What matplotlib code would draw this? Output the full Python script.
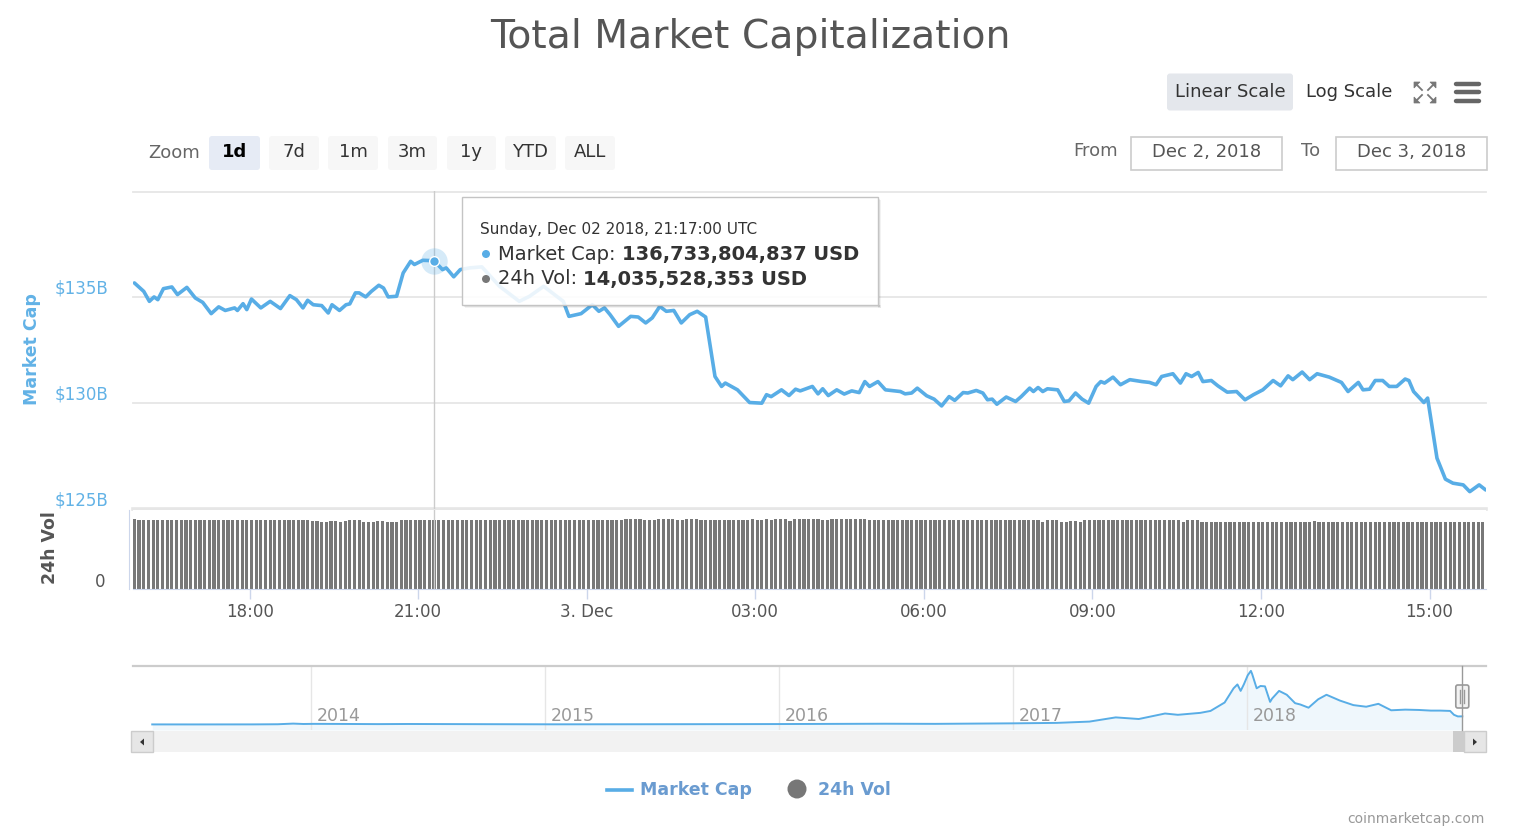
import matplotlib
matplotlib.use("Agg")
import matplotlib.pyplot as plt
import matplotlib.dates as mdates
import matplotlib.patches as mpatches
import matplotlib.transforms as mtransforms
import numpy as np
import pandas as pd

plt.rcParams['font.family'] = ['DejaVu Sans']

W, H, DPI = 1518, 834, 100

# ---------------- data ----------------
mc_times = [
 "12-02 15:57","12-02 16:07","12-02 16:13","12-02 16:18","12-02 16:22","12-02 16:28","12-02 16:37","12-02 16:43",
 "12-02 16:53","12-02 17:02","12-02 17:10","12-02 17:19","12-02 17:27","12-02 17:34","12-02 17:44","12-02 17:47",
 "12-02 17:53","12-02 17:57","12-02 18:02","12-02 18:12","12-02 18:22","12-02 18:33","12-02 18:43","12-02 18:50",
 "12-02 18:57","12-02 19:02","12-02 19:08","12-02 19:17","12-02 19:24","12-02 19:28","12-02 19:36","12-02 19:43",
 "12-02 19:47","12-02 19:53","12-02 19:57","12-02 20:04","12-02 20:10","12-02 20:18","12-02 20:23","12-02 20:28",
 "12-02 20:37","12-02 20:44","12-02 20:52","12-02 20:56","12-02 21:05","12-02 21:17","12-02 21:26","12-02 21:30",
 "12-02 21:38","12-02 21:45","12-02 21:55","12-02 22:08","12-02 22:14","12-02 22:27","12-02 22:48","12-02 22:59",
 "12-02 23:14","12-02 23:35","12-02 23:41","12-02 23:54",
 "12-03 00:06","12-03 00:13","12-03 00:19","12-03 00:25","12-03 00:34","12-03 00:47","12-03 00:55","12-03 01:03",
 "12-03 01:10","12-03 01:18","12-03 01:25","12-03 01:33","12-03 01:41","12-03 01:50","12-03 01:58","12-03 02:07",
 "12-03 02:17","12-03 02:24","12-03 02:28","12-03 02:41","12-03 02:54","12-03 03:07","12-03 03:12","12-03 03:17",
 "12-03 03:28","12-03 03:36","12-03 03:43","12-03 03:48","12-03 04:01","12-03 04:07","12-03 04:12","12-03 04:18",
 "12-03 04:27","12-03 04:35","12-03 04:43","12-03 04:51","12-03 04:57","12-03 05:02","12-03 05:11","12-03 05:19",
 "12-03 05:35","12-03 05:40","12-03 05:47","12-03 05:53","12-03 06:03","12-03 06:11","12-03 06:19","12-03 06:27",
 "12-03 06:33","12-03 06:42","12-03 06:47","12-03 06:56","12-03 07:03","12-03 07:08","12-03 07:13","12-03 07:18",
 "12-03 07:28","12-03 07:38","12-03 07:44","12-03 07:53","12-03 07:57","12-03 08:02","12-03 08:07","12-03 08:12",
 "12-03 08:23","12-03 08:30","12-03 08:35","12-03 08:42","12-03 08:49","12-03 08:56","12-03 09:04","12-03 09:09",
 "12-03 09:13","12-03 09:22","12-03 09:30","12-03 09:40","12-03 09:53","12-03 10:01","12-03 10:08","12-03 10:14",
 "12-03 10:26","12-03 10:34","12-03 10:40","12-03 10:46","12-03 10:53","12-03 10:58","12-03 11:07","12-03 11:14",
 "12-03 11:24","12-03 11:34","12-03 11:43","12-03 11:52","12-03 12:02","12-03 12:13","12-03 12:21","12-03 12:29",
 "12-03 12:34","12-03 12:44","12-03 12:52","12-03 13:00","12-03 13:13","12-03 13:26","12-03 13:33","12-03 13:44",
 "12-03 13:49","12-03 13:56","12-03 14:02","12-03 14:10","12-03 14:17","12-03 14:25","12-03 14:34","12-03 14:38",
 "12-03 14:43","12-03 14:54","12-03 14:58","12-03 15:08","12-03 15:17","12-03 15:25","12-03 15:36","12-03 15:43",
 "12-03 15:53","12-03 16:00"]
mc_values = [
 135.68,135.28,134.81,135.02,134.89,135.41,135.49,135.13,
 135.47,134.97,134.76,134.23,134.55,134.38,134.50,134.38,
 134.70,134.42,134.92,134.50,134.81,134.47,135.08,134.89,
 134.50,134.86,134.65,134.61,134.26,134.65,134.38,134.65,
 134.69,135.21,135.21,135.02,135.28,135.57,135.44,135.02,
 135.05,136.15,136.70,136.55,136.75,136.73,136.31,136.39,
 135.97,136.31,136.39,136.44,136.15,135.52,134.81,135.05,
 135.52,134.81,134.10,134.23,
 134.65,134.34,134.50,134.18,133.63,134.10,134.07,133.79,
 134.03,134.57,134.34,134.38,133.79,134.18,134.34,134.07,
 131.26,130.79,130.95,130.63,130.03,130.00,130.40,130.31,
 130.63,130.36,130.66,130.58,130.79,130.44,130.68,130.36,
 130.63,130.43,130.58,130.50,131.02,130.79,131.02,130.63,
 130.55,130.44,130.48,130.71,130.35,130.19,129.87,130.31,
 130.13,130.50,130.48,130.60,130.48,130.16,130.19,129.95,
 130.29,130.08,130.31,130.71,130.55,130.74,130.55,130.68,
 130.63,130.08,130.11,130.48,130.19,130.00,130.79,131.02,
 130.95,131.23,130.87,131.11,131.02,130.98,130.87,131.26,
 131.39,130.95,131.39,131.26,131.45,131.02,131.07,130.82,
 130.52,130.55,130.16,130.40,130.63,131.07,130.82,131.29,
 131.11,131.47,131.11,131.39,131.23,130.98,130.55,130.98,
 130.63,130.66,131.07,131.07,130.79,130.79,131.14,131.07,
 130.55,130.03,130.24,127.40,126.41,126.22,126.14,125.82,
 126.14,125.90]

# 24h volume (billions USD), one bar every 5 minutes starting at vol_start; run-length of read levels
vol_start = "2018-12-02 15:57"
vol_counts = [1,37,1,1,2,2,1,1,3,3,2,3,48,4,3,4,2,3,11,1,2,1,1,3,1,5,1,2,1,7,37,1,3,2,1,1,1,21,1,3,24,1,36]
vol_levels = [14.38,14.04,13.84,13.97,13.77,13.90,13.71,13.97,14.04,13.77,13.97,13.77,14.04,14.38,14.04,14.38,
              14.04,14.38,14.04,14.24,14.04,14.38,14.04,14.38,13.97,14.38,14.24,14.04,14.31,14.38,14.04,13.77,
              14.04,13.77,13.97,13.90,13.77,14.04,13.77,14.04,13.77,13.97,13.77]

hover_time = "2018-12-02 21:17"
hover_cap = 136733804837
hover_vol = 14035528353
hover_label = "Sunday, Dec 02 2018, 21:17:00 UTC"

nav_dates = ["2013-04-28","2013-07-01","2013-10-01","2013-11-10","2013-12-04","2013-12-20","2014-01-05","2014-02-10",
             "2014-04-15","2014-06-01","2014-10-01","2015-01-15","2015-06-01","2015-11-05","2016-01-01","2016-06-15",
             "2016-09-01","2017-01-01","2017-03-10","2017-04-30","2017-06-10","2017-07-16","2017-08-26","2017-09-15",
             "2017-10-20","2017-11-05","2017-11-27","2017-12-11","2017-12-17","2017-12-22","2017-12-27","2018-01-02",
             "2018-01-07","2018-01-09","2018-01-16","2018-01-22","2018-01-29","2018-02-06","2018-02-09","2018-02-20",
             "2018-03-04","2018-03-17","2018-03-25","2018-04-07","2018-04-22","2018-05-05","2018-05-26","2018-06-16",
             "2018-07-06","2018-07-25","2018-08-14","2018-09-05","2018-09-26","2018-10-15","2018-10-30","2018-11-14",
             "2018-11-20","2018-11-26","2018-12-03"]
nav_values = [1.5,1.2,1.8,4,14,8,10,9,
              6,8,5,3,4,6,7,12,
              10,18,25,45,110,85,170,150,
              180,210,340,560,620,520,620,760,
              830,780,560,596,590,350,400,520,
              460,330,310,260,390,460,370,300,
              275,320,220,230,225,215,215,210,
              150,125,126]

x_tick_times = ["2018-12-02 18:00","2018-12-02 21:00","2018-12-03 00:00","2018-12-03 03:00",
                "2018-12-03 06:00","2018-12-03 09:00","2018-12-03 12:00","2018-12-03 15:00"]
x_tick_labels = ["18:00","21:00","3. Dec","03:00","06:00","09:00","12:00","15:00"]
y_ticks = [125, 130, 135, 140]
y_tick_labels = ["$125B", "$130B", "$135B", ""]
nav_years = ["2014", "2015", "2016", "2017", "2018"]
zoom_buttons = ["1d", "7d", "1m", "3m", "1y", "YTD", "ALL"]

# ---------------- styles ----------------
LINE = '#58ade6'
YLAB = '#62b2e6'
LEG = '#6a9bd0'
GRID = '#e6e6e6'
AXC = '#ccd6eb'
BAR = '#787878'

def rect(x0, y0, x1, y1):
    return [x0 / W, 1 - y1 / H, (x1 - x0) / W, (y1 - y0) / H]

fig = plt.figure(figsize=(W / DPI, H / DPI), dpi=DPI, facecolor='white')

t_mc = pd.to_datetime(["2018-" + s for s in mc_times])
vol_values = np.repeat(vol_levels, vol_counts)
t_vol = pd.date_range(vol_start, periods=len(vol_values), freq="5min")
x0 = pd.Timestamp("2018-12-02 15:55:30")
x1 = pd.Timestamp("2018-12-03 16:00:20")
ht = pd.Timestamp(hover_time)

# ---------------- main price axes ----------------
ax = fig.add_axes(rect(133, 191.5, 1486, 509))
ax.plot(t_mc, mc_values, color=LINE, lw=2.6, solid_joinstyle='round', solid_capstyle='round', zorder=3)
ax.set_xlim(x0, x1)
ax.set_ylim(125, 140)
for s in ax.spines.values():
    s.set_visible(False)
ax.set_yticks(y_ticks)
ax.set_yticklabels(y_tick_labels)
ax.set_xticks([])
for yv in y_ticks:
    ax.axhline(yv, color=GRID, lw=1.3 if yv != 125 else 2.6, clip_on=False, zorder=1)
ax.tick_params(axis='y', length=0, pad=18, labelsize=12, labelcolor=YLAB)
off = mtransforms.ScaledTranslation(0, 0.11, fig.dpi_scale_trans)
for lab in ax.get_yticklabels():
    lab.set_transform(lab.get_transform() + off)
ax.axvline(ht, color='#cccccc', lw=1, zorder=2)
ax.plot([ht], [hover_cap / 1e9], 'o', ms=19, color=LINE, alpha=0.25, mec='none', zorder=4)
ax.plot([ht], [hover_cap / 1e9], 'o', ms=7, color=LINE, mec='white', mew=1, zorder=5)

# ---------------- volume axes ----------------
vax = fig.add_axes(rect(133, 509.5, 1486, 588.5))
vax.bar(t_vol, vol_values, width=3.4 / 1440, color=BAR, align='center', linewidth=0, zorder=2)
vax.set_xlim(x0, x1)
vax.set_ylim(0, 16.29)
vax.spines['top'].set_visible(False)
vax.spines['right'].set_visible(False)
vax.spines['bottom'].set_color(AXC)
vax.spines['left'].set_color(AXC)
vax.spines['left'].set_position(('outward', 3))
vax.set_yticks([0])
vax.set_yticklabels(["0"])
vax.tick_params(axis='y', length=0, pad=17, labelsize=12, labelcolor='#555555')
off2 = mtransforms.ScaledTranslation(0, 0.085, fig.dpi_scale_trans)
for lab in vax.get_yticklabels():
    lab.set_transform(lab.get_transform() + off2)
vax.set_xticks(pd.to_datetime(x_tick_times))
vax.set_xticklabels(x_tick_labels)
vax.tick_params(axis='x', length=7.5, width=1, color=AXC, labelsize=12, labelcolor='#555555', pad=3)
vax.axvline(ht, color='#cccccc', lw=1, zorder=3)

# ---------------- navigator ----------------
nax = fig.add_axes(rect(133, 666, 1486, 730))
nd = pd.to_datetime(nav_dates)
nax.fill_between(nd, nav_values, -85, color=LINE, alpha=0.09, linewidth=0)
nax.plot(nd, nav_values, color=LINE, lw=1.4)
nax.set_xlim(pd.Timestamp("2013-03-29"), pd.Timestamp("2019-01-09"))
nax.set_ylim(-85, 905)
for k, s in nax.spines.items():
    s.set_visible(k == 'top')
nax.spines['top'].set_color('#cccccc')
nax.spines['top'].set_linewidth(1.6)
ydates = pd.to_datetime([y + "-01-01" for y in nav_years])
nax.set_xticks(ydates)
nax.set_xticklabels([])
nax.set_yticks([])
nax.tick_params(axis='x', length=0)
nax.grid(axis='x', color=GRID, lw=1)
btr = mtransforms.blended_transform_factory(nax.transData, nax.transAxes) + \
      mtransforms.ScaledTranslation(0.06, 0, fig.dpi_scale_trans)
for d, y in zip(ydates, nav_years):
    nax.text(d, 0.22, y, transform=btr, ha='left', va='center', fontsize=12.5, color='#999999')

# ---------------- overlay (UI chrome) ----------------
ov = fig.add_axes([0, 0, 1, 1])
ov.set_xlim(0, W)
ov.set_ylim(H, 0)
ov.axis('off')
ov.set_zorder(10)

ov.text(750, 37, "Total Market Capitalization", ha='center', va='center', fontsize=28.3, color='#555555')

# top-right buttons
ov.add_patch(mpatches.FancyBboxPatch((1167, 73.5), 126, 37, boxstyle="round,pad=0,rounding_size=3",
                                     fc='#e4e7ec', ec='none'))
ov.text(1230, 92, "Linear Scale", ha='center', va='center', fontsize=13, color='#333333')
ov.text(1349, 92, "Log Scale", ha='center', va='center', fontsize=13, color='#333333')
ic = '#777777'
for cx, cy, dx, dy in [(1414, 82, 1, 1), (1436, 82, -1, 1), (1414, 103, 1, -1), (1436, 103, -1, -1)]:
    ov.add_patch(mpatches.Polygon([(cx, cy), (cx + 6 * dx, cy), (cx, cy + 6 * dy)], closed=True, fc=ic, ec=ic, lw=0.5))
    ov.plot([cx + 2 * dx, cx + 8 * dx], [cy + 2 * dy, cy + 8 * dy], color=ic, lw=1.3)
for yy in [83.5, 92.3, 101]:
    ov.plot([1456, 1479], [yy, yy], color='#666666', lw=3.2, solid_capstyle='round')

# zoom buttons
ov.text(148, 153, "Zoom", ha='left', va='center', fontsize=13, color='#666666')
bx = [(209, 260), (269, 319), (328, 378), (388, 437), (447, 496), (505, 556), (565, 615)]
for (a, b), lab in zip(bx, zoom_buttons):
    sel = lab == "1d"
    ov.add_patch(mpatches.FancyBboxPatch((a, 136), b - a, 34, boxstyle="round,pad=0,rounding_size=3",
                                         fc='#e6ebf5' if sel else '#f7f7f7', ec='none'))
    ov.text((a + b) / 2, 152, lab, ha='center', va='center', fontsize=13,
            fontweight='bold' if sel else 'normal', color='#000000' if sel else '#333333')

# date range inputs
ov.text(1073, 151, "From", ha='left', va='center', fontsize=13, color='#666666')
ov.text(1301, 151, "To", ha='left', va='center', fontsize=13, color='#666666')
for (a, b), lab in zip([(1131, 1282), (1336, 1487)], ["Dec 2, 2018", "Dec 3, 2018"]):
    ov.add_patch(mpatches.Rectangle((a, 136.5), b - a, 33.5, fc='white', ec='#cccccc', lw=1.2))
    ov.text((a + b) / 2, 152, lab, ha='center', va='center', fontsize=13, color='#555555')

# axis titles
ov.text(32, 349, "Market Cap", rotation=90, ha='center', va='center', fontsize=12.5,
        fontweight='bold', color=YLAB)
ov.text(50, 548, "24h Vol", rotation=90, ha='center', va='center', fontsize=12.5,
        fontweight='bold', color='#555555')

# tooltip (shadow only outside the box, on the right and bottom)
TX, TY, TW, TH = 462, 197, 416, 108
for k, a in [(3, 0.05), (2, 0.07), (1, 0.10)]:
    ov.add_patch(mpatches.Rectangle((TX + TW, TY + k), k, TH, fc='black', alpha=a, ec='none'))
    ov.add_patch(mpatches.Rectangle((TX + k, TY + TH), TW, k, fc='black', alpha=a, ec='none'))
ov.add_patch(mpatches.Rectangle((TX, TY), TW, TH, fc=(1, 1, 1, 0.88), ec='#c4c4c4', lw=1))
ov.text(480, 229, hover_label, ha='left', va='center', fontsize=11, color='#333333')
fig.canvas.draw()
rend = fig.canvas.get_renderer()
rows = [(254, LINE, "Market Cap: ", f"{hover_cap:,} USD"),
        (279, '#777777', "24h Vol: ", f"{hover_vol:,} USD")]
for yy, col, name, val in rows:
    ov.add_patch(mpatches.Circle((486, yy), 4, fc=col, ec='none'))
    t = ov.text(498, yy, name, ha='left', va='center', fontsize=14, color='#333333')
    bb = t.get_window_extent(rend)
    ov.text(bb.x1, yy, val, ha='left', va='center', fontsize=14, fontweight='bold', color='#333333')

# navigator handle
hx = nax.transData.transform((mdates.date2num(nd[-1]), 0))[0]
ov.plot([hx, hx], [666, 730], color='#999999', lw=1)
ov.add_patch(mpatches.FancyBboxPatch((hx - 6.5, 685), 13, 23, boxstyle="round,pad=0,rounding_size=2",
                                     fc='#f2f2f2', ec='#999999', lw=1.2))
for dx in (-1.8, 1.8):
    ov.plot([hx + dx, hx + dx], [690, 703], color='#999999', lw=1)

# scrollbar
ov.add_patch(mpatches.Rectangle((131, 731), 1355, 21, fc='#f2f2f2', ec='none'))
ov.add_patch(mpatches.Rectangle((1453, 731), 11, 21, fc='#cccccc', ec='none'))
for a in (131, 1464):
    ov.add_patch(mpatches.Rectangle((a, 731), 22, 21, fc='#e6e6e6', ec='#cccccc', lw=1))
ov.add_patch(mpatches.Polygon([(140, 742), (144, 738.5), (144, 745.5)], closed=True, fc='#333333', ec='none'))
ov.add_patch(mpatches.Polygon([(1477, 742), (1473, 738.5), (1473, 745.5)], closed=True, fc='#333333', ec='none'))

# legend
ov.plot([607, 632], [790, 790], color=LINE, lw=2.6)
ov.text(640, 790, "Market Cap", ha='left', va='center', fontsize=12.5, fontweight='bold', color=LEG)
ov.add_patch(mpatches.Circle((797, 789), 9.5, fc='#777777', ec='none'))
ov.text(818, 790, "24h Vol", ha='left', va='center', fontsize=12.5, fontweight='bold', color=LEG)

ov.text(1485, 819, "coinmarketcap.com", ha='right', va='center', fontsize=10, color='#999999')

fig.savefig("out.png", dpi=DPI, facecolor='white')
